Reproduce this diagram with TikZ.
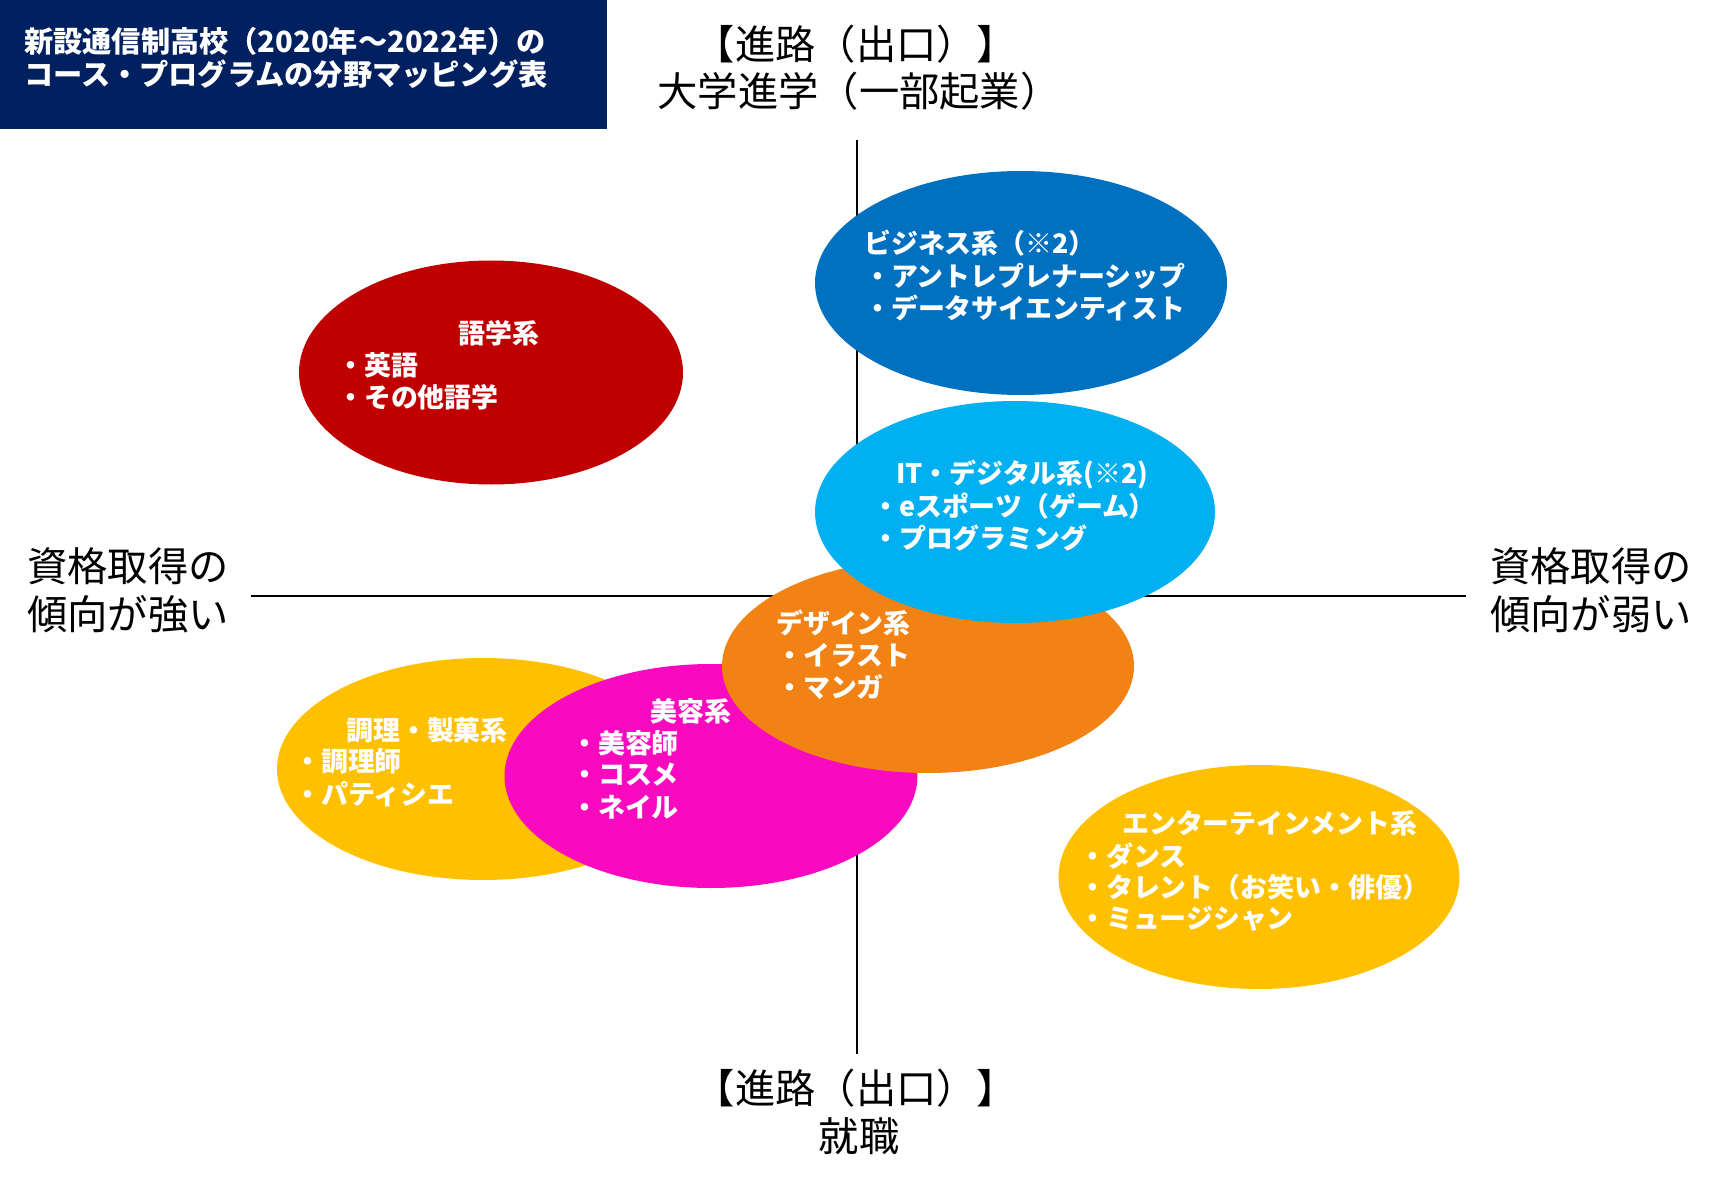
\documentclass[tikz,border=0pt]{standalone}
\usepackage{fontspec}
\setmainfont{Noto Sans CJK JP}
\usetikzlibrary{shapes.geometric}
\definecolor{navy}{HTML}{002060}
\definecolor{cred}{HTML}{C00000}
\definecolor{cblue}{HTML}{0070C0}
\definecolor{clblue}{HTML}{00B0F0}
\definecolor{corange}{HTML}{F18213}
\definecolor{cyellow}{HTML}{FFC000}
\definecolor{cpink}{HTML}{FA0ABE}
\tikzset{
  blob/.style={ellipse, inner sep=0pt, draw=none},
  wt/.style={text=white, font=\fontsize{26.9}{30}\selectfont\bfseries, inner sep=0pt},
  wl/.style={wt, anchor=west},
  axislbl/.style={font=\fontsize{40.3}{46}\selectfont, inner sep=0pt},
  ttl/.style={text=white, font=\fontsize{29.2}{33}\selectfont\bfseries, anchor=west, inner sep=0pt},
  axisline/.style={line width=2pt, black}
}
\begin{document}
\begin{tikzpicture}[x=1pt,y=-1pt]
\useasboundingbox (0,0) rectangle (1718,1190);
% title
\node[fill=navy, minimum width=607pt, minimum height=129pt, anchor=north west, inner sep=0pt] (titlebox) at (0,0) {};
\node[ttl] (t1) at (24,41.5) {新設通信制高校（2020年～2022年）の};
\node[ttl] (t2) at (24,74.5) {コース・プログラムの分野マッピング表};
% axes
\coordinate (vtop) at (857,140);
\coordinate (vbot) at (857,1054);
\coordinate (hleft) at (251,596);
\coordinate (hright) at (1466,596);
\draw[axisline] (vtop) -- (vbot);
\draw[axisline] (hleft) -- (hright);
% axis labels
\node[axislbl] (top1) at (856,44) {【進路（出口）】};
\node[axislbl] (top2) at (859,91) {大学進学（一部起業）};
\node[axislbl] (bot1) at (856,1088) {【進路（出口）】};
\node[axislbl] (bot2) at (859,1136) {就職};
\node[axislbl, anchor=west] (lft1) at (27,566) {資格取得の};
\node[axislbl, anchor=west] (lft2) at (27,614) {傾向が強い};
\node[axislbl, anchor=west] (rgt1) at (1490,566) {資格取得の};
\node[axislbl, anchor=west] (rgt2) at (1490,614) {傾向が弱い};
% ellipses
\node[blob, fill=cred, minimum width=384pt, minimum height=224pt] (lang) at (491,372.5) {};
\node[blob, fill=cblue, minimum width=412pt, minimum height=224pt] (biz) at (1021,283) {};
\node[blob, fill=cyellow, minimum width=412pt, minimum height=222pt] (cook) at (483,769) {};
\node[blob, fill=cpink, minimum width=413pt, minimum height=224pt] (beauty) at (711,776) {};
\node[blob, fill=corange, minimum width=412pt, minimum height=214pt] (design) at (928,666) {};
\node[blob, fill=clblue, minimum width=400pt, minimum height=222pt] (it) at (1015,512) {};
\node[blob, fill=cyellow, minimum width=401pt, minimum height=224pt] (ent) at (1259,877) {};
% texts
\node[wt] (lang0) at (499,333) {語学系};
\node[wl] (lang1) at (337,365) {・英語};
\node[wl] (lang2) at (337,397) {・その他語学};
\node[wl] (biz0) at (864,243) {ビジネス系（※2）};
\node[wl] (biz1) at (864,276) {・アントレプレナーシップ};
\node[wl] (biz2) at (864,308) {・データサイエンティスト};
\node[wl] (it0) at (896,474) {IT・デジタル系(※2)};
\node[wl] (it1) at (872,506) {・eスポーツ（ゲーム）};
\node[wl] (it2) at (872,538) {・プログラミング};
\node[wl] (des0) at (776,623) {デザイン系};
\node[wl] (des1) at (776,655) {・イラスト};
\node[wl] (des2) at (776,687) {・マンガ};
\node[wt] (bea0) at (691,711) {美容系};
\node[wl] (bea1) at (571,743) {・美容師};
\node[wl] (bea2) at (571,775) {・コスメ};
\node[wl] (bea3) at (571,807) {・ネイル};
\node[wt] (cook0) at (427,730) {調理・製菓系};
\node[wl] (cook1) at (294,761) {・調理師};
\node[wl] (cook2) at (294,794) {・パティシエ};
\node[wl] (ent0) at (1122,823) {エンターテインメント系};
\node[wl] (ent1) at (1079,856) {・ダンス};
\node[wl] (ent2) at (1079,887) {・タレント（お笑い・俳優）};
\node[wl] (ent3) at (1079,919) {・ミュージシャン};
\end{tikzpicture}
\end{document}
